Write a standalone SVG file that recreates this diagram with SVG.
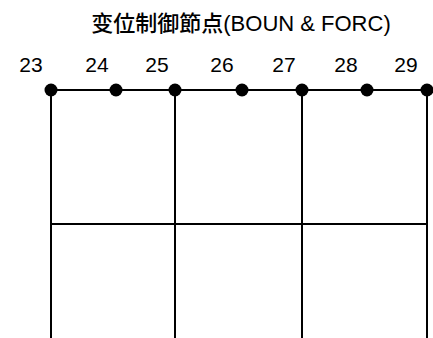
<svg xmlns="http://www.w3.org/2000/svg" width="433" height="338" viewBox="0 0 433 338">
<style>
.t{font-family:"Liberation Sans","Noto Sans CJK JP",sans-serif;fill:#000}
.lbl{font-size:21px;text-anchor:middle}
.ttl{font-size:22px;text-anchor:middle;font-weight:500}
.ln{stroke:#000;stroke-width:2;fill:none}
.nd{fill:#000}
</style>
<rect width="433" height="338" fill="#fff"/>
<text class="t ttl" x="241" y="31">变位制御節点(BOUN &amp; FORC)</text>
<g id="connectors">
<line class="ln" x1="51" y1="90" x2="427" y2="90"/>
<line class="ln" x1="51" y1="90" x2="51" y2="338"/>
<line class="ln" x1="175" y1="90" x2="175" y2="338"/>
<line class="ln" x1="302" y1="90" x2="302" y2="338"/>
<line class="ln" x1="427" y1="90" x2="427" y2="338"/>
<line class="ln" x1="51" y1="224" x2="427" y2="224"/>
</g>
<g id="n23"><circle class="nd" cx="51" cy="90" r="6.5"/><text class="t lbl" x="31" y="72">23</text></g>
<g id="n24"><circle class="nd" cx="116" cy="90" r="6.5"/><text class="t lbl" x="97" y="72">24</text></g>
<g id="n25"><circle class="nd" cx="175" cy="90" r="6.5"/><text class="t lbl" x="157" y="72">25</text></g>
<g id="n26"><circle class="nd" cx="242" cy="90" r="6.5"/><text class="t lbl" x="222" y="72">26</text></g>
<g id="n27"><circle class="nd" cx="302" cy="90" r="6.5"/><text class="t lbl" x="284" y="72">27</text></g>
<g id="n28"><circle class="nd" cx="367" cy="90" r="6.5"/><text class="t lbl" x="346" y="72">28</text></g>
<g id="n29"><circle class="nd" cx="427" cy="90" r="6.5"/><text class="t lbl" x="406" y="72">29</text></g>
</svg>
